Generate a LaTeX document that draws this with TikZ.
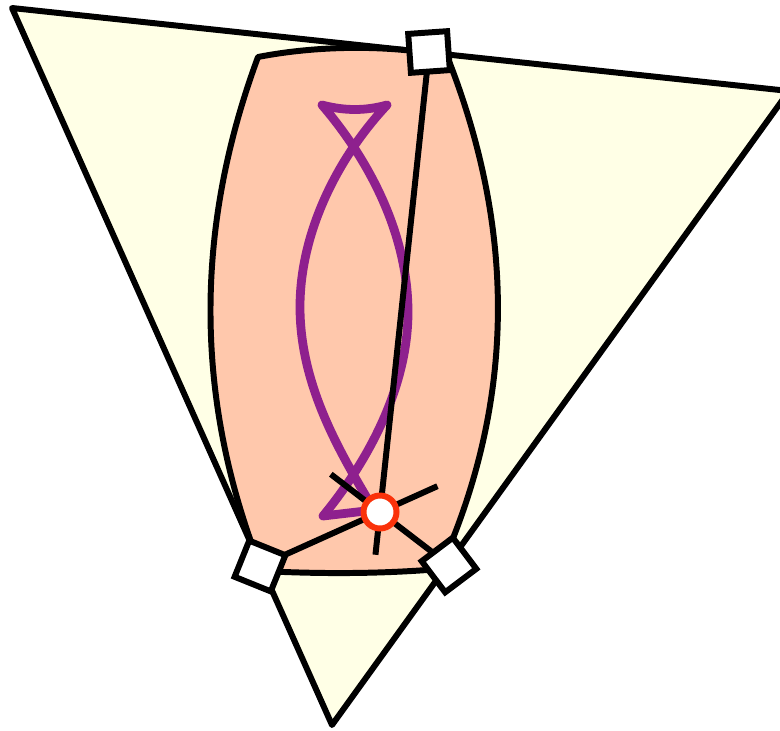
\documentclass[tikz,border=0pt]{standalone}
\usepackage{xcolor}
\usepackage{tikz}
\usetikzlibrary{positioning,calc}
\definecolor{paleyellow}{RGB}{255,255,230}
\definecolor{peach}{RGB}{255,200,172}
\definecolor{curvepurple}{RGB}{142,32,142}
\definecolor{pivotred}{RGB}{250,50,10}
\pgfdeclarelayer{back}
\pgfsetlayers{back,main}
\tikzset{
  handle/.style={draw, fill=white, line width=3.4pt, minimum size=0.78cm, inner sep=0pt},
  pivot/.style={circle, draw=pivotred, fill=white, line width=3.4pt, minimum size=0.66cm, inner sep=0pt},
  edge/.style={line width=3.4pt, line join=round}
}
\begin{document}
\begin{tikzpicture}[x=0.02cm, y=-0.02cm]
\useasboundingbox (0,0) rectangle (780,730);
\node[pivot] (pv) at (380,512) {};
\node[handle, rotate=4] (top) at (429,52) {};
\node[handle, rotate=-22] (left) at (260,566) {};
\node[handle, rotate=37] (right) at (449,565) {};

\begin{pgfonlayer}{back}
\draw[edge, fill=paleyellow] (12,8) -- (789,91) -- (332,725) -- cycle;
\draw[edge, fill=peach] (258,57) .. controls (320,45) and (390,45) .. (447,56)
  .. controls (516,230) and (516,400) .. (440,569)
  .. controls (380,574) and (320,574) .. (262,571)
  .. controls (194,400) and (194,230) .. (258,57) -- cycle;
\draw[curvepurple, line width=5pt, line join=round, line cap=round]
  (322,105) .. controls (345,111) and (365,111) .. (387,105)
  .. controls (340,155) and (300,230) .. (300,307)
  .. controls (300,390) and (345,460) .. (374,510)
  .. controls (357,512) and (340,514) .. (323,516)
  .. controls (365,465) and (408,390) .. (408,312)
  .. controls (408,230) and (365,155) .. (322,105) -- cycle;
\draw[edge] (top.center) -- ($(pv)!-0.86cm!(top)$);
\draw[edge] (left.center) -- ($(pv)!-1.26cm!(left)$);
\draw[edge] (right.center) -- ($(pv)!-1.24cm!(right)$);
\end{pgfonlayer}
\end{tikzpicture}
\end{document}
